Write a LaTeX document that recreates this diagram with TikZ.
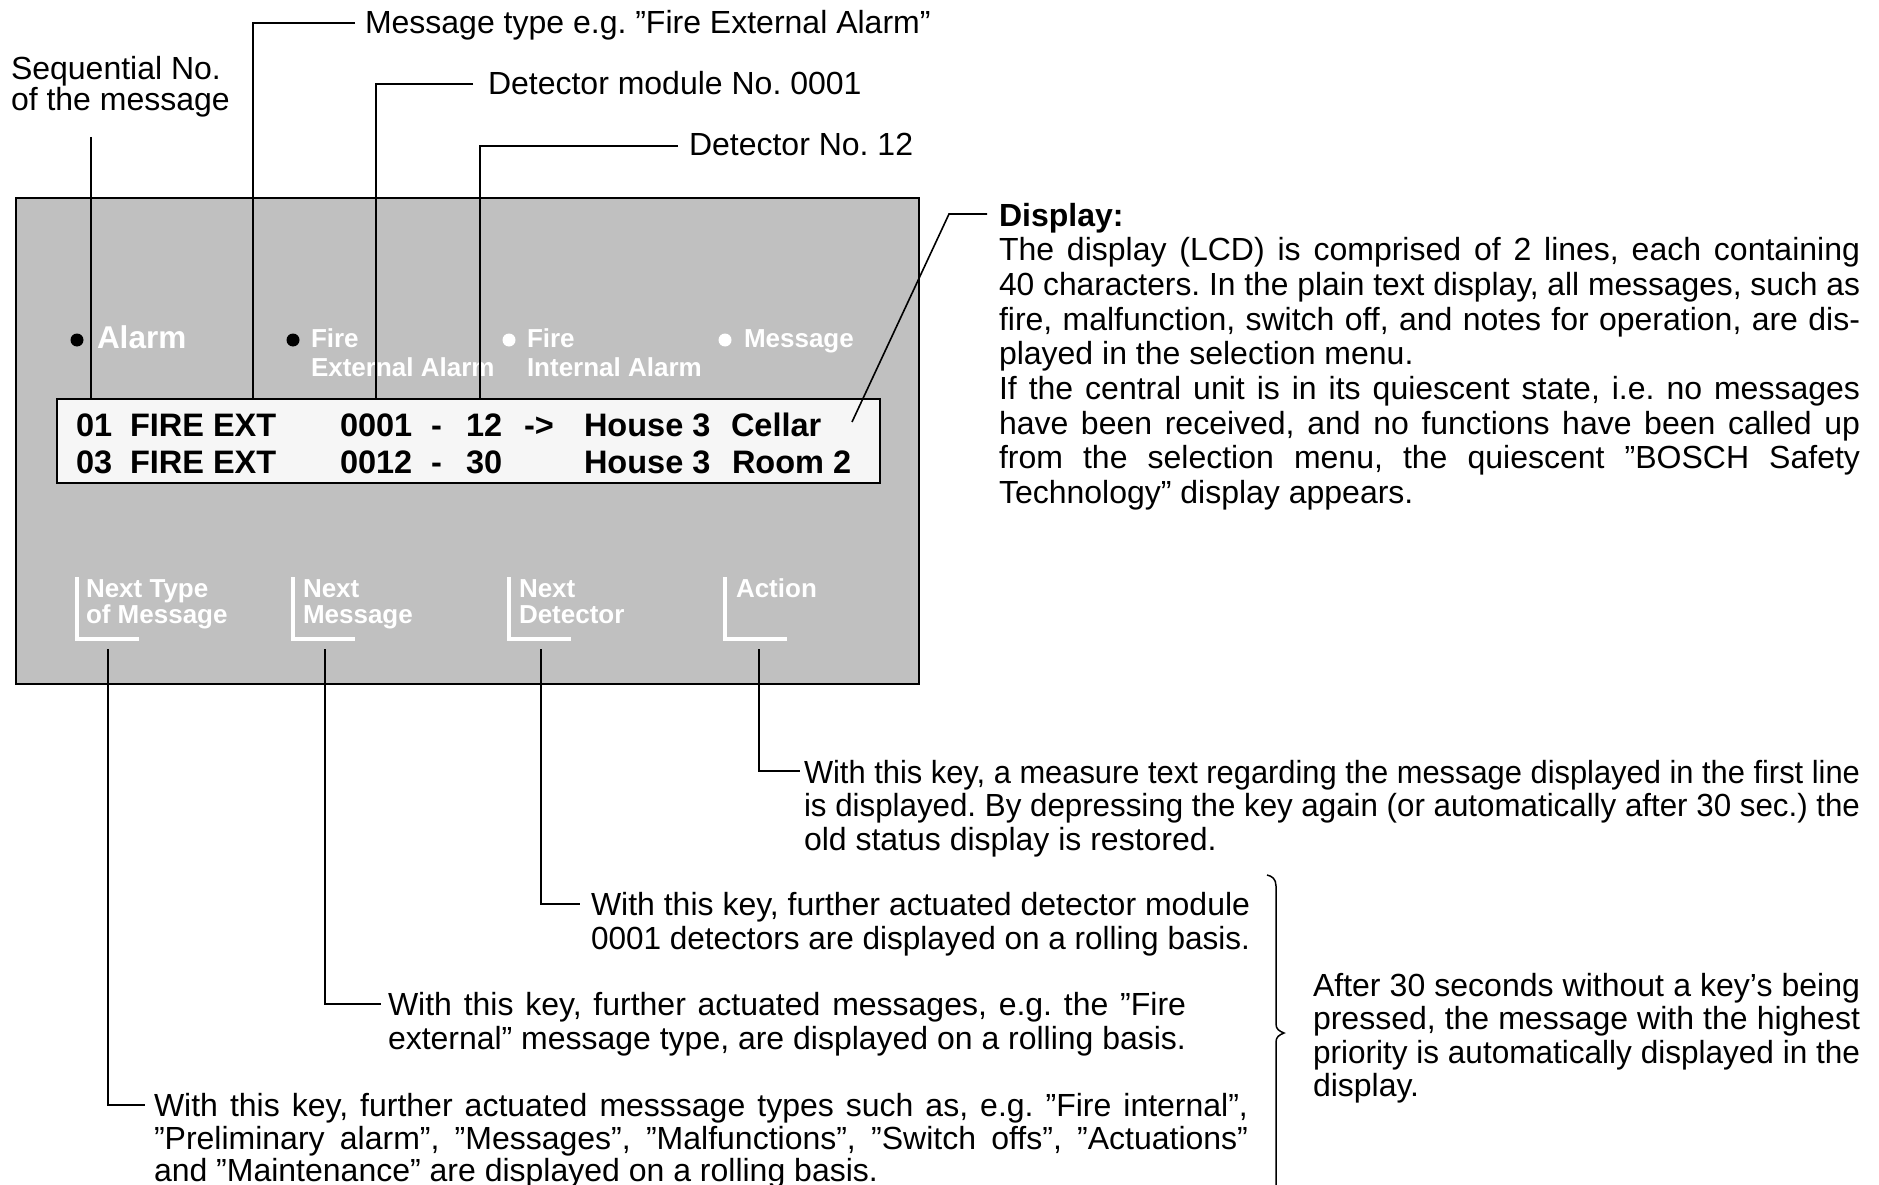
\documentclass[tikz,border=0pt]{standalone}
\usepackage{fontspec}
\usepackage{graphicx}
\setmainfont{Liberation Sans}
\frenchspacing
% a justified line: stretched to the full width, or squeezed when it is too long
\newsavebox\jlbox
\newcommand\jl[1]{\sbox\jlbox{#1}%
  \ifdim\wd\jlbox>\linewidth\resizebox{\linewidth}{\height}{\usebox\jlbox}%
  \else\makebox[\linewidth][s]{#1}\fi}
\newcommand\fsz[2]{\fontsize{#1}{#2}\selectfont}
\definecolor{panelgray}{RGB}{192,192,192}
\definecolor{lcdfill}{RGB}{246,246,246}
\begin{document}
\begin{tikzpicture}[x=1pt,y=-1pt,
  fontspaces/.style={execute at begin node={\spaceskip=0pt\xspaceskip=0pt}},
  txt/.style={anchor=base west, inner sep=0pt, outer sep=0pt, font=\fsz{32}{33.6}},
  para/.style={txt, align=left, fontspaces},
  lead/.style={line width=1.6pt},
  paneltxt/.style={anchor=base west, inner sep=0pt, outer sep=0pt, text=white,
                   font=\bfseries\fsz{26}{29}, align=left, text width=260pt, fontspaces},
  keytxt/.style={paneltxt, font=\bfseries\fsz{26}{26}},
  lcdtxt/.style={anchor=base west, inner sep=0pt, outer sep=0pt, font=\bfseries\fsz{32.5}{37}},
  led/.style={circle, inner sep=0pt, minimum size=13pt},
  keyframe/.style={white, line width=3.3pt}]
\fill[white] (0,0) rectangle (1879,1185);
\useasboundingbox (0,0) rectangle (1879,1185);

% control panel and LCD window
\node[draw, line width=1.8pt, fill=panelgray, anchor=north west, minimum width=903pt,
      minimum height=486pt, inner sep=0pt] (panel) at (15,197) {};
\node[draw, line width=1.5pt, fill=lcdfill, anchor=north west, minimum width=823pt,
      minimum height=84pt, inner sep=0pt] (lcd) at (56,398) {};

% indicator LEDs
\node[led, fill=black] (ledalarm) at (77,340) {};
\node[led, fill=black] (ledext) at (293,340) {};
\node[led, fill=white] (ledint) at (509,340) {};
\node[led, fill=white] (ledmsg) at (725,340) {};
\node[paneltxt, font=\bfseries\fsz{31.5}{31}] (alarm) at (97,348) {Alarm};
\node[paneltxt] (fireext) at (311,347) {Fire\\External Alarm};
\node[paneltxt] (fireint) at (527,347) {Fire\\Internal Alarm};
\node[paneltxt] (msgled) at (744,347) {Message};

% keys
\node[keytxt] (ktype) at (86,597) {Next Type\\of Message};
\node[keytxt] (kmsg) at (303,597) {Next\\Message};
\node[keytxt] (kdet) at (519,597) {Next\\Detector};
\node[keytxt] (kact) at (736,597) {Action};
\foreach \k in {77,293,509,725} \draw[keyframe] (\k,577) |- (\k+62,639);

% LCD contents
\node[lcdtxt] (la1) at (76,436) {01};
\node[lcdtxt] (la2) at (130,436) {FIRE EXT};
\node[lcdtxt] (la3) at (340,436) {0001};
\node[lcdtxt] (la4) at (431,436) {-};
\node[lcdtxt] (la5) at (466,436) {12};
\node[lcdtxt] (la6) at (524,436) {->};
\node[lcdtxt] (la7) at (584,436) {House 3};
\node[lcdtxt] (la8) at (731,436) {Cellar};
\node[lcdtxt] (lb1) at (76,473) {03};
\node[lcdtxt] (lb2) at (130,473) {FIRE EXT};
\node[lcdtxt] (lb3) at (340,473) {0012};
\node[lcdtxt] (lb4) at (431,473) {-};
\node[lcdtxt] (lb5) at (466,473) {30};
\node[lcdtxt] (lb7) at (584,473) {House 3};
\node[lcdtxt] (lb8) at (732,473) {Room 2};

% labels above the panel
\node[para, text width=260pt, font=\fsz{32}{31}] (seq) at (11,80) {Sequential No.\\of the message};
\node[txt] (mtype) at (365,34) {Message type e.g. ”Fire External Alarm”};
\node[txt] (dmod) at (488,95) {Detector module No. 0001};
\node[txt] (dno) at (689,156) {Detector No. 12};

% display description
\node[para, text width=861pt, font=\fsz{32}{34.7}] (disp) at (999,226) {\textbf{Display:}\\
\jl{The display (LCD) is comprised of 2 lines, each containing}\\
\jl{40 characters. In the plain text display, all messages, such as}\\
\jl{fire, malfunction, switch off, and notes for operation, are dis-}\\
played in the selection menu.\\
\jl{If the central unit is in its quiescent state, i.e. no messages}\\
\jl{have been received, and no functions have been called up}\\
\jl{from the selection menu, the quiescent ”BOSCH Safety}\\
Technology” display appears.};

% key descriptions
\node[para, text width=1056pt] (actn) at (804,783) {%
\jl{With this key, a measure text regarding the message displayed in the first line}\\
\jl{is displayed. By depressing the key again (or automatically after 30 sec.) the}\\
old status display is restored.};
\node[para, text width=659pt] (detn) at (591,915.5) {%
\jl{With this key, further actuated detector module}\\
\jl{0001 detectors are displayed on a rolling basis.}};
\node[para, text width=798pt] (msgn) at (388,1015.5) {%
\jl{With this key, further actuated messages, e.g. the ”Fire}\\
\jl{external” message type, are displayed on a rolling basis.}};
\node[para, text width=1094pt, font=\fsz{32}{32.5}] (typn) at (154,1116.5) {%
\jl{With this key, further actuated messsage types such as, e.g. ”Fire internal”,}\\
\jl{”Preliminary alarm”, ”Messages”, ”Malfunctions”, ”Switch offs”, ”Actuations”}\\
and ”Maintenance” are displayed on a rolling basis.};
\node[para, text width=547pt] (after) at (1313,996) {%
\jl{After 30 seconds without a key’s being}\\
\jl{pressed, the message with the highest}\\
\jl{priority is automatically displayed in the}\\
display.};

% leader lines to the display
\coordinate (seqtop) at (91,137);
\coordinate (p1) at (91,398);
\coordinate (p2) at (253,398);
\coordinate (p3) at (376,398);
\coordinate (p4) at (480,398);
\coordinate (pd) at (852,422);
\coordinate (dbend) at (949,214);
\draw[lead] (seqtop) -- (p1);
\draw[lead] ([xshift=-10pt,yshift=11pt]mtype.base west) -| (p2);
\draw[lead] ([xshift=-15pt,yshift=11pt]dmod.base west) -| (p3);
\draw[lead] ([xshift=-11pt,yshift=10pt]dno.base west) -| (p4);
\draw[lead] ([xshift=-12pt,yshift=12pt]disp.base west) -- (dbend) -- (pd);

% leader lines from the keys
\coordinate (q1) at (108,649);
\coordinate (q2) at (325,649);
\coordinate (q3) at (541,649);
\coordinate (q4) at (759,649);
\draw[lead] (q4) |- ([xshift=-4pt,yshift=12pt]actn.base west);
\draw[lead] (q3) |- ([xshift=-11pt,yshift=11.5pt]detn.base west);
\draw[lead] (q2) |- ([xshift=-7pt,yshift=11.5pt]msgn.base west);
\draw[lead] (q1) |- ([xshift=-9pt,yshift=11.5pt]typn.base west);

% brace grouping the three rolling keys
\draw[line width=1.5pt] (1267,875) .. controls (1272,876) and (1276,879) .. (1276,886)
  -- (1276,1024) .. controls (1276,1029) and (1279,1031) .. (1284,1033)
  .. controls (1279,1035) and (1276,1037) .. (1276,1042) -- (1276,1186);
\end{tikzpicture}
\end{document}
